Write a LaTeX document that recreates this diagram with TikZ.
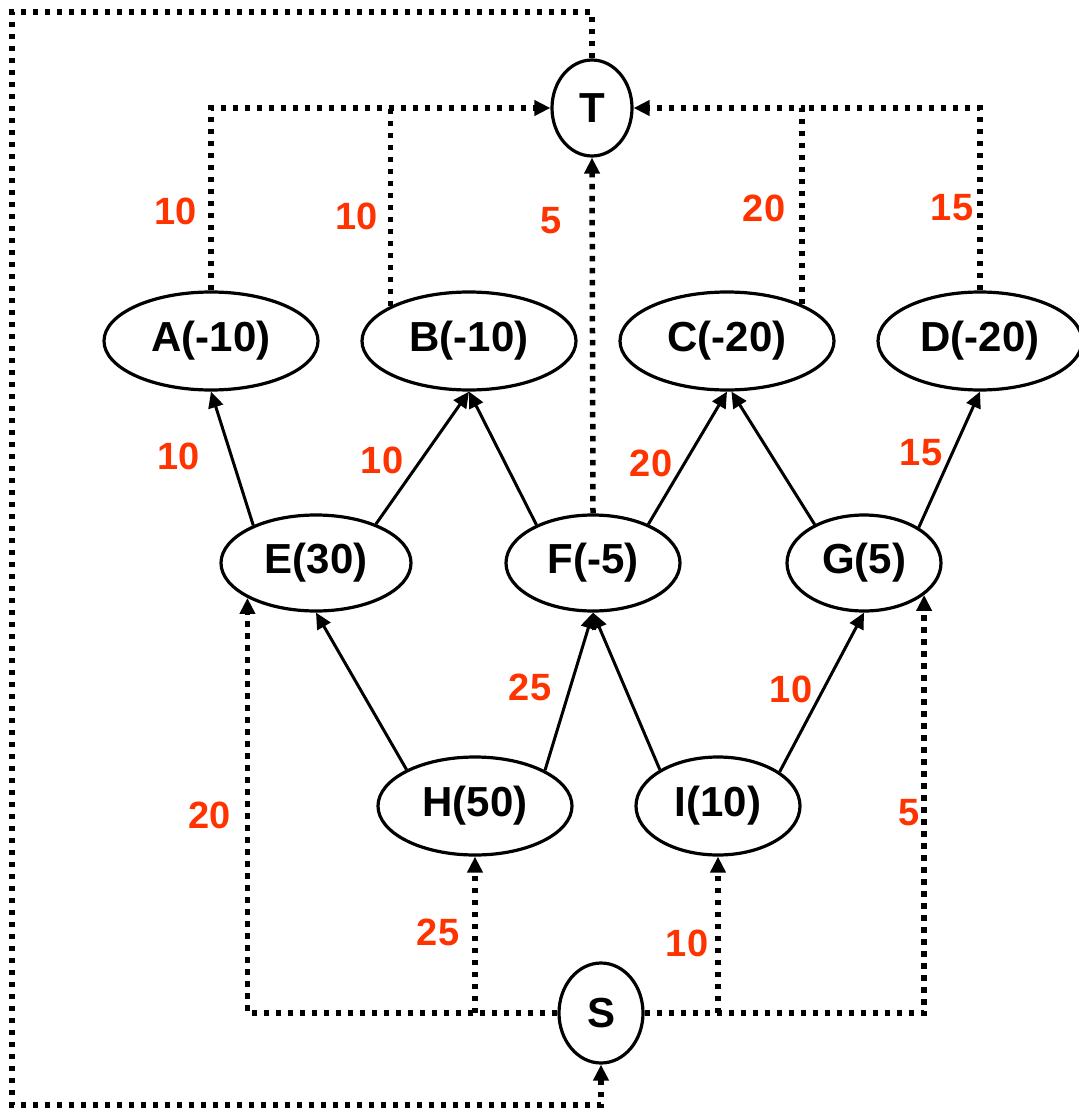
\documentclass[tikz,border=0pt]{standalone}
\usepackage{fontspec}
\setmainfont{Liberation Sans}
\usetikzlibrary{shapes.geometric,arrows.meta}
\definecolor{wt}{HTML}{FF3300}
\begin{document}
\begin{tikzpicture}[x=1pt,y=-1pt,
  vtx/.style={draw,ellipse,line width=3.2pt,inner sep=0pt,
    font=\fontsize{42}{48}\selectfont\bfseries},
  tip/.style={-{Triangle[length=16pt,width=15pt]}},
  flow/.style={line width=3pt,tip},
  link/.style={line width=5.5pt,dash pattern=on 5.5pt off 6.5pt},
  linktip/.style={link,tip},
  wlab/.style={text=wt,inner sep=0pt,font=\fontsize{38}{44}\selectfont\bfseries}]
\useasboundingbox (0,0) rectangle (1078,1110);

% vertices
\node[vtx,minimum width=80,minimum height=96]  (T) at (592,108) {T};
\node[vtx,minimum width=84,minimum height=100] (S) at (601,1013) {S};
\node[vtx,minimum width=214,minimum height=98] (A) at (211,341) {A(-10)};
\node[vtx,minimum width=214,minimum height=98] (B) at (469,341) {B(-10)};
\node[vtx,minimum width=214,minimum height=98] (C) at (727,341) {C(-20)};
\node[vtx,minimum width=204,minimum height=98] (D) at (980,341) {D(-20)};
\node[vtx,minimum width=190,minimum height=96] (E) at (316,563) {E(30)};
\node[vtx,minimum width=174,minimum height=96] (F) at (593,563) {F(-5)};
\node[vtx,minimum width=154,minimum height=96] (G) at (864,563) {G(5)};
\node[vtx,minimum width=194,minimum height=98] (H) at (475,806) {H(50)};
\node[vtx,minimum width=164,minimum height=98] (I) at (718,806) {I(10)};

% solid arcs between inner vertices
\draw[flow] (E.149) -- (A.south);
\draw[flow] (E.33)  -- (B.south);
\draw[flow] (F.146) -- (B.south);
\draw[flow] (F.35)  -- (C.south);
\draw[flow] (G.142) -- (C.-85);
\draw[flow] (G.33)  -- (D.south);
\draw[flow] (H.152) -- (E.south);
\draw[flow] (H.27)  -- (F.south);
\draw[flow] (I.148) -- (F.south);
\draw[flow] (I.29)  -- (G.south);

% dotted arcs into the sink T
\draw[linktip] (A.north) |- (T.west);
\draw[link] (B.156) -- (B.156 |- T.west);
\draw[linktip] (F.north) -- (T.south);
\draw[linktip] (C.26) |- (T.east);
\draw[link] (D.north) |- (C.26 |- T.east);

% dotted arcs out of the source S
\draw[linktip] (S.west) -| (E.207);
\draw[linktip] (S.west -| H.south) -- (H.south);
\draw[linktip] (S.east) -| (G.-28);
\draw[linktip] (S.east -| I.south) -- (I.south);

% return loop from T back to S
\coordinate (loopTL) at (12,12);
\coordinate (loopBL) at (12,1105);
\draw[linktip] (T.north) |- (loopTL) -- (loopBL) -| (S.south);

% capacities
\node[wlab] (wAT) at (176,211) {10};
\node[wlab] (wBT) at (357,216) {10};
\node[wlab] (wFT) at (551,221) {5};
\node[wlab] (wCT) at (764,208) {20};
\node[wlab] (wDT) at (952,208) {15};
\node[wlab] (wEA) at (179,456) {10};
\node[wlab] (wEB) at (382,460) {10};
\node[wlab] (wFC) at (651,463) {20};
\node[wlab] (wGD) at (921,453) {15};
\node[wlab] (wHF) at (530,687) {25};
\node[wlab] (wIG) at (791,689) {10};
\node[wlab] (wSE) at (210,815) {20};
\node[wlab] (wSG) at (909,813) {5};
\node[wlab] (wSH) at (438,932) {25};
\node[wlab] (wSI) at (687,943) {10};
\end{tikzpicture}
\end{document}
